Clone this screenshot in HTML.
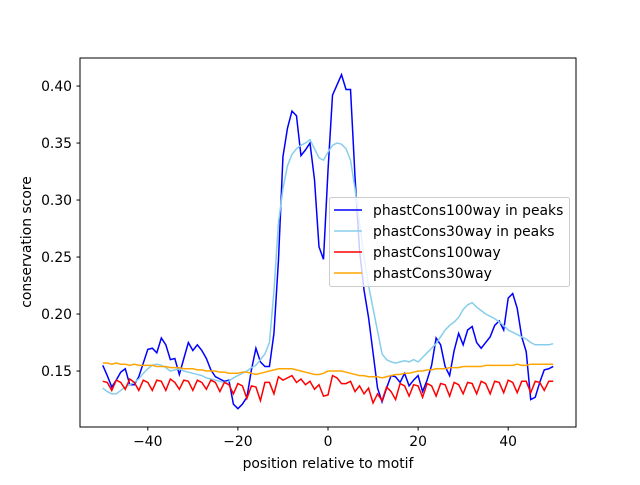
<!DOCTYPE html>
<html><head><meta charset="utf-8"><style>
body{margin:0;background:#fff}
svg text{font-family:"DejaVu Sans","Liberation Sans",sans-serif;fill:#000}
</style></head><body>
<svg id="chart" width="640" height="480" viewBox="0 0 640 480">
<rect x="0" y="0" width="640" height="480" fill="#fff"/>
<g id="series"></g>
<rect x="80" y="58" width="496" height="369" fill="none" stroke="#000" stroke-width="1"/>
<g id="xticks"></g>
<g id="yticks"></g>
<text x="328" y="468" font-size="13.9" text-anchor="middle">position relative to motif</text>
<text x="0" y="0" font-size="13.9" text-anchor="middle" transform="translate(31,242) rotate(-90)">conservation score</text>
<g id="legend"></g>
</svg>
<script>
const positions=[];for(let i=-50;i<=50;i++)positions.push(i);
const peaks100=[0.155,0.146,0.136,0.142,0.149,0.152,0.138,0.138,0.145,0.157,0.169,0.170,0.166,0.179,0.173,0.160,0.161,0.147,0.161,0.175,0.168,0.173,0.168,0.161,0.151,0.145,0.143,0.141,0.142,0.121,0.117,0.121,0.127,0.151,0.170,0.158,0.154,0.154,0.183,0.247,0.338,0.363,0.378,0.374,0.339,0.344,0.350,0.318,0.259,0.248,0.326,0.392,0.401,0.410,0.397,0.397,0.320,0.256,0.221,0.197,0.166,0.135,0.123,0.135,0.146,0.145,0.140,0.148,0.137,0.142,0.146,0.132,0.142,0.155,0.179,0.173,0.154,0.146,0.168,0.183,0.173,0.186,0.189,0.175,0.170,0.175,0.180,0.190,0.194,0.186,0.214,0.218,0.205,0.180,0.167,0.125,0.127,0.140,0.151,0.152,0.154];
const peaks30=[0.135,0.132,0.130,0.130,0.133,0.136,0.138,0.140,0.143,0.148,0.152,0.155,0.156,0.155,0.153,0.150,0.151,0.152,0.150,0.149,0.148,0.147,0.146,0.144,0.143,0.142,0.141,0.140,0.141,0.144,0.146,0.148,0.150,0.153,0.155,0.160,0.165,0.175,0.220,0.280,0.310,0.330,0.340,0.345,0.348,0.350,0.353,0.345,0.337,0.335,0.342,0.348,0.350,0.349,0.345,0.335,0.310,0.280,0.250,0.225,0.205,0.185,0.165,0.160,0.158,0.157,0.158,0.159,0.158,0.160,0.158,0.162,0.166,0.170,0.174,0.180,0.186,0.190,0.193,0.197,0.204,0.208,0.210,0.206,0.203,0.200,0.198,0.196,0.193,0.190,0.186,0.184,0.182,0.180,0.178,0.175,0.173,0.173,0.173,0.173,0.174];
const all100=[0.141,0.140,0.133,0.142,0.140,0.134,0.143,0.140,0.133,0.142,0.140,0.133,0.142,0.141,0.133,0.143,0.140,0.134,0.142,0.141,0.133,0.142,0.140,0.134,0.142,0.140,0.132,0.140,0.138,0.130,0.139,0.137,0.126,0.137,0.136,0.124,0.140,0.140,0.130,0.145,0.142,0.144,0.146,0.140,0.143,0.138,0.141,0.134,0.138,0.128,0.129,0.146,0.144,0.139,0.139,0.141,0.132,0.137,0.130,0.135,0.122,0.130,0.124,0.136,0.132,0.125,0.139,0.137,0.128,0.138,0.137,0.127,0.139,0.137,0.128,0.139,0.138,0.128,0.140,0.138,0.130,0.140,0.139,0.130,0.141,0.139,0.130,0.141,0.140,0.131,0.142,0.140,0.131,0.141,0.141,0.131,0.141,0.140,0.133,0.141,0.141];
const all30=[0.157,0.157,0.156,0.157,0.156,0.156,0.155,0.156,0.155,0.155,0.155,0.155,0.154,0.154,0.154,0.153,0.153,0.153,0.152,0.152,0.152,0.151,0.151,0.150,0.150,0.150,0.149,0.149,0.148,0.148,0.148,0.149,0.149,0.148,0.147,0.148,0.149,0.150,0.151,0.152,0.152,0.152,0.152,0.151,0.150,0.149,0.148,0.147,0.147,0.148,0.150,0.150,0.150,0.150,0.149,0.148,0.147,0.146,0.146,0.145,0.145,0.145,0.144,0.145,0.146,0.147,0.147,0.148,0.148,0.149,0.150,0.150,0.151,0.151,0.152,0.152,0.152,0.153,0.153,0.153,0.154,0.154,0.154,0.154,0.154,0.155,0.155,0.155,0.155,0.155,0.155,0.155,0.156,0.155,0.155,0.156,0.156,0.156,0.156,0.156,0.156];
const seriesNames=["phastCons100way in peaks","phastCons30way in peaks","phastCons100way","phastCons30way"];
const xTickVals=[-40,-20,0,20,40];
const yTickVals=[0.15,0.20,0.25,0.30,0.35,0.40];
const yTickLabels=["0.15","0.20","0.25","0.30","0.35","0.40"];

const NS="http://www.w3.org/2000/svg";
const X0=80,X1=576,Y0=427,Y1=58,xmin=-55.05,xmax=55.05,ymin=0.1009,ymax=0.4246;
function sx(v){return X0+(v-xmin)/(xmax-xmin)*(X1-X0);}
function sy(v){return Y0-(v-ymin)/(ymax-ymin)*(Y0-Y1);}
const data=[peaks100,peaks30,all100,all30];
const colors=["#0000ff","#87ceeb","#ff0000","#ffa500"];
const slugs=["line-phastcons100way-peaks","line-phastcons30way-peaks","line-phastcons100way","line-phastcons30way"];
const sg=document.getElementById('series');
for(let k=0;k<4;k++){
  const p=document.createElementNS(NS,'path');
  let d='';data[k].forEach((v,i)=>{d+=(i?'L':'M')+sx(positions[i]).toFixed(2)+' '+sy(v).toFixed(2);});
  p.setAttribute('d',d);p.setAttribute('fill','none');p.setAttribute('stroke',colors[k]);p.setAttribute('stroke-width','1.5');
  
  
  sg.appendChild(p);
}
const xg=document.getElementById('xticks');
xTickVals.forEach(v=>{
  const l=document.createElementNS(NS,'line');const x=sx(v);
  l.setAttribute('x1',x);l.setAttribute('x2',x);l.setAttribute('y1',427);l.setAttribute('y2',430.5);l.setAttribute('stroke','#000');
  
  
  xg.appendChild(l);
  const t=document.createElementNS(NS,'text');t.setAttribute('x',x);t.setAttribute('y',446);t.setAttribute('font-size','13.9');t.setAttribute('text-anchor','middle');
  t.textContent=(v<0?'\u2212'+(-v):String(v));
  
  
  xg.appendChild(t);
});
const yg=document.getElementById('yticks');
yTickVals.forEach((v,i)=>{
  const l=document.createElementNS(NS,'line');const y=sy(v);
  l.setAttribute('x1',76.5);l.setAttribute('x2',80);l.setAttribute('y1',y);l.setAttribute('y2',y);l.setAttribute('stroke','#000');
  
  
  yg.appendChild(l);
  const t=document.createElementNS(NS,'text');t.setAttribute('x',72);t.setAttribute('y',y+5);t.setAttribute('font-size','13.9');t.setAttribute('text-anchor','end');
  t.textContent=yTickLabels[i];
  
  
  yg.appendChild(t);
});
const lg=document.getElementById('legend');
const box=document.createElementNS(NS,'rect');
box.setAttribute('x',329.5);box.setAttribute('y',197.5);box.setAttribute('width',240);box.setAttribute('height',89);box.setAttribute('rx',2);
box.setAttribute('fill','#fff');box.setAttribute('fill-opacity','0.8');box.setAttribute('stroke','#ccc');


lg.appendChild(box);
seriesNames.forEach((n,k)=>{
  const y=210+k*21;
  const l=document.createElementNS(NS,'line');
  l.setAttribute('x1',334);l.setAttribute('x2',362);l.setAttribute('y1',y);l.setAttribute('y2',y);l.setAttribute('stroke',colors[k]);l.setAttribute('stroke-width','1.5');
  
  
  lg.appendChild(l);
  const t=document.createElementNS(NS,'text');t.setAttribute('x',373);t.setAttribute('y',y+5);t.setAttribute('font-size','13.9');
  t.textContent=n;
  
  
  lg.appendChild(t);
});
</script>
</body></html>
